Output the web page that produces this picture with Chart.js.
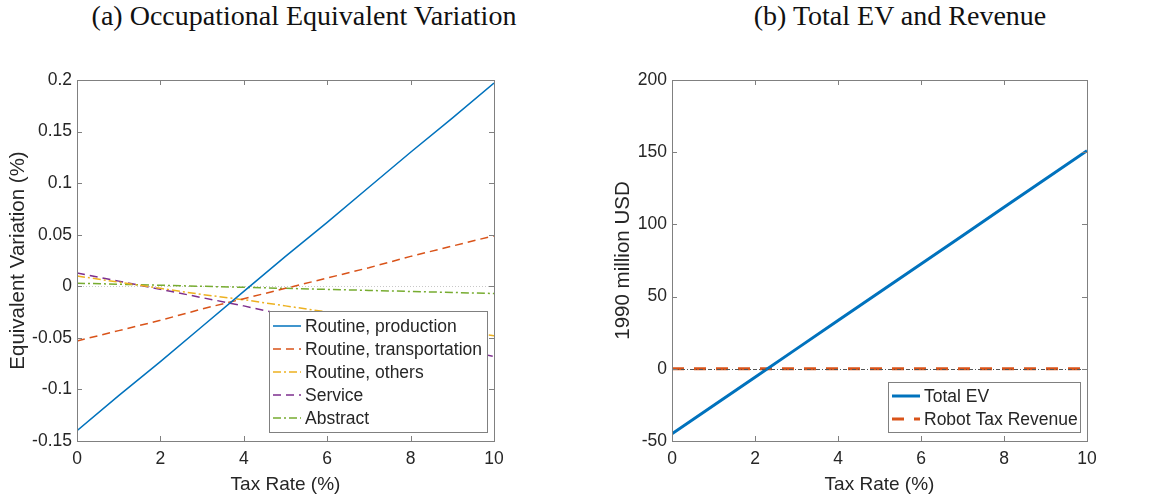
<!DOCTYPE html>
<html>
<head>
<meta charset="utf-8">
<script src="https://cdn.jsdelivr.net/npm/chart.js@4"></script>
<style>
  body { margin: 0; background: #fff; width: 1162px; height: 500px; position: relative; overflow: hidden; }
  .panel { position: absolute; top: 0; width: 581px; height: 500px; }
  .ttl { position: absolute; top: 0; line-height: 32px; font-family: "Liberation Serif", serif; font-size: 28px; color: #111; white-space: nowrap; transform: translateX(-50%); }
</style>
</head>
<body>
<div class="ttl" style="left:304px">(a) Occupational Equivalent Variation</div>
<div class="ttl" style="left:900px">(b) Total EV and Revenue</div>
<div class="panel" style="left:0"><canvas id="evChart" width="581" height="500"></canvas></div>
<div class="panel" style="left:581px"><canvas id="totalChart" width="581" height="500"></canvas></div>
<script>
// eixo x: taxa do imposto (%)
const taxRate = [0, 1, 2, 3, 4, 5, 6, 7, 8, 9, 10];

// painel (a) - variacao equivalente por ocupacao (%)
const routineProduction = [-0.140, -0.106, -0.073, -0.039, -0.005, 0.029, 0.062, 0.096, 0.130, 0.163, 0.197];
const routineTransport  = [-0.053, -0.043, -0.033, -0.022, -0.012, -0.002, 0.008, 0.018, 0.029, 0.039, 0.049];
const routineOthers     = [0.010, 0.004, -0.002, -0.008, -0.013, -0.019, -0.025, -0.030, -0.036, -0.042, -0.048];
const service           = [0.013, 0.005, -0.003, -0.011, -0.019, -0.028, -0.036, -0.044, -0.052, -0.060, -0.068];
const abstractJobs      = [0.003, 0.002, 0.001, 0.000, -0.001, -0.002, -0.003, -0.004, -0.005, -0.006, -0.007];

// painel (b) - milhoes de USD de 1990
const totalEV = [-45, -25.4, -5.8, 13.8, 33.4, 53, 72.6, 92.2, 111.8, 131.4, 151];
const robotTaxRevenue = [0, 0, 0, 0, 0, 0, 0, 0, 0, 0, 0];

const xTicks = [0, 2, 4, 6, 8, 10];
const yTicksA = [-0.15, -0.1, -0.05, 0, 0.05, 0.1, 0.15, 0.2];
const yTicksB = [-50, 0, 50, 100, 150, 200];

// cores padrao do MATLAB
const blue = '#0072BD', orange = '#D95319', yellow = '#EDB120', purple = '#7E2F8E', green = '#77AC30';
const sansFont = '"Liberation Sans", Arial, sans-serif';
const textColor = '#262626';

function pts(ys) {
  return ys.map((y, i) => ({ x: taxRate[i], y: y }));
}

// caixa do eixo estilo MATLAB, com ticks para dentro nos 4 lados + linha do zero
const boxAxes = {
  id: 'boxAxes',
  beforeDatasetsDraw(chart, args, opts) {
    if (!opts.zeroOnTop) drawZero(chart, opts);
  },
  afterDatasetsDraw(chart, args, opts) {
    if (opts.zeroOnTop) drawZero(chart, opts);
    const { ctx, chartArea: a, scales } = chart;
    ctx.save();
    ctx.strokeStyle = '#808080';
    ctx.lineWidth = 1;
    ctx.setLineDash([]);
    ctx.strokeRect(Math.round(a.left) + 0.5, Math.round(a.top) + 0.5, Math.round(a.right - a.left), Math.round(a.bottom - a.top));
    const len = 5;
    ctx.beginPath();
    scales.x.ticks.forEach(t => {
      const px = Math.round(scales.x.getPixelForValue(t.value)) + 0.5;
      ctx.moveTo(px, a.bottom); ctx.lineTo(px, a.bottom - len);
      ctx.moveTo(px, a.top); ctx.lineTo(px, a.top + len);
    });
    scales.y.ticks.forEach(t => {
      const py = Math.round(scales.y.getPixelForValue(t.value)) + 0.5;
      ctx.moveTo(a.left, py); ctx.lineTo(a.left + len, py);
      ctx.moveTo(a.right, py); ctx.lineTo(a.right - len, py);
    });
    ctx.stroke();
    ctx.restore();
  }
};

function drawZero(chart, opts) {
  const { ctx, chartArea: a, scales } = chart;
  const py = Math.round(scales.y.getPixelForValue(0)) + 0.5;
  ctx.save();
  ctx.strokeStyle = opts.zeroColor;
  ctx.lineWidth = 1;
  ctx.setLineDash(opts.zeroDash);
  ctx.beginPath();
  ctx.moveTo(a.left, py);
  ctx.lineTo(a.right, py);
  ctx.stroke();
  ctx.restore();
}

// legenda desenhada dentro da area do grafico
const boxLegend = {
  id: 'boxLegend',
  afterDraw(chart, args, opts) {
    const { ctx } = chart;
    ctx.save();
    ctx.fillStyle = '#fff';
    ctx.fillRect(opts.x, opts.y, opts.w, opts.h);
    ctx.strokeStyle = '#808080';
    ctx.lineWidth = 1;
    ctx.strokeRect(opts.x + 0.5, opts.y + 0.5, opts.w, opts.h);
    ctx.font = '17.5px ' + sansFont;
    ctx.textBaseline = 'middle';
    ctx.fillStyle = textColor;
    chart.data.datasets.forEach((ds, i) => {
      const cy = opts.y + opts.first + i * opts.step;
      ctx.strokeStyle = ds.borderColor;
      ctx.lineWidth = ds.borderWidth;
      ctx.setLineDash(ds.borderDash || []);
      ctx.beginPath();
      ctx.moveTo(opts.x + 4, cy);
      ctx.lineTo(opts.x + 32, cy);
      ctx.stroke();
      ctx.setLineDash([]);
      ctx.fillText(ds.label, opts.x + 36, cy + 1);
    });
    ctx.restore();
  }
};

function lineDs(label, ys, color, width, dash) {
  return {
    label: label,
    data: pts(ys),
    borderColor: color,
    backgroundColor: color,
    borderWidth: width,
    borderDash: dash,
    pointRadius: 0,
    tension: 0,
    fill: false
  };
}

function axisOpts(min, max, ticksList, title, yWidth, titlePad, fmt) {
  return {
    x: {
      type: 'linear', min: 0, max: 10,
      afterFit: s => { s.height = 59; },
      afterBuildTicks: s => { s.ticks = xTicks.map(v => ({ value: v })); },
      grid: { display: false, drawTicks: false },
      border: { display: false },
      ticks: { color: textColor, font: { size: 17.5, family: sansFont }, padding: 8, maxRotation: 0 },
      title: { display: true, text: 'Tax Rate (%)', color: textColor, font: { size: 19, family: sansFont }, padding: { top: 0, bottom: 4 } }
    },
    y: {
      type: 'linear', min: min, max: max,
      afterFit: s => { s.width = yWidth; },
      afterBuildTicks: s => { s.ticks = ticksList.map(v => ({ value: v })); },
      grid: { display: false, drawTicks: false },
      border: { display: false },
      ticks: { color: textColor, font: { size: 17.5, family: sansFont }, padding: 5, callback: fmt },
      title: { display: true, text: title, color: textColor, font: { size: 20.5, family: sansFont }, padding: { top: titlePad, bottom: 0 } }
    }
  };
}

new Chart(document.getElementById('evChart').getContext('2d'), {
  type: 'line',
  data: {
    datasets: [
      lineDs('Routine, production', routineProduction, blue, 1.5, []),
      lineDs('Routine, transportation', routineTransport, orange, 1.5, [8, 5]),
      lineDs('Routine, others', routineOthers, yellow, 1.5, [8, 3, 2, 3]),
      lineDs('Service', service, purple, 1.5, [8, 5]),
      lineDs('Abstract', abstractJobs, green, 1.5, [8, 3, 2, 3])
    ]
  },
  options: {
    responsive: false,
    devicePixelRatio: 1,
    animation: false,
    layout: { padding: { top: 80, right: 87, left: 0, bottom: 0 } },
    scales: axisOpts(-0.15, 0.2, yTicksA, 'Equivalent Variation (%)', 77, 6, v => String(parseFloat(v.toFixed(2)))),
    plugins: {
      legend: { display: false },
      tooltip: { enabled: false },
      boxAxes: { zeroColor: '#c8c8c8', zeroDash: [1, 2], zeroOnTop: false },
      boxLegend: { x: 269, y: 311, w: 218, h: 121, first: 15, step: 23 }
    }
  },
  plugins: [boxAxes, boxLegend]
});

new Chart(document.getElementById('totalChart').getContext('2d'), {
  type: 'line',
  data: {
    datasets: [
      lineDs('Total EV', totalEV, blue, 3, []),
      lineDs('Robot Tax Revenue', robotTaxRevenue, orange, 3, [12, 10])
    ]
  },
  options: {
    responsive: false,
    devicePixelRatio: 1,
    animation: false,
    layout: { padding: { top: 80, right: 75, left: 0, bottom: 0 } },
    scales: axisOpts(-50, 200, yTicksB, '1990 million USD', 91, 30, v => String(v)),
    plugins: {
      legend: { display: false },
      tooltip: { enabled: false },
      boxAxes: { zeroColor: '#555', zeroDash: [4, 2, 1, 2], zeroOnTop: true },
      boxLegend: { x: 307, y: 382, w: 192, h: 50, first: 14, step: 23 }
    }
  },
  plugins: [boxAxes, boxLegend]
});
</script>
</body>
</html>
